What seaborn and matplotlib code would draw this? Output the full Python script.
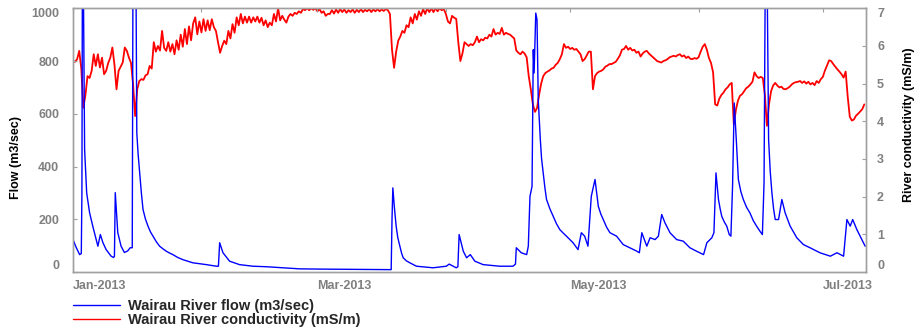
import numpy as np
import pandas as pd
import seaborn as sns
import matplotlib.pyplot as plt
import matplotlib.dates as mdates
from matplotlib.lines import Line2D

sns.set_style('white')
plt.rcParams['font.family'] = ['Liberation Sans', 'DejaVu Sans']

start = pd.Timestamp('2013-01-01')

# Flow (m3/sec): days after 1 Jan 2013 and the value
flow_days = [0.0, 0.8, 1.6, 2.0, 2.15, 2.3, 2.5, 2.8, 3.3, 4.0,
             4.8, 5.6, 6.0, 6.6, 7.2, 8.0, 9.2, 9.8, 10.0, 10.2,
             10.8, 11.6, 12.4, 13.2, 13.8, 14.3, 14.5, 14.8, 15.0, 15.2,
             15.4, 15.7, 16.1, 16.5, 16.9, 17.5, 18.1, 18.7, 19.3, 20.1,
             20.9, 21.7, 22.5, 23.3, 24.1, 25.3, 26.5, 28.9, 32.2, 34.6,
             35.1, 35.4, 36.2, 37.8, 40.2, 43.4, 46.7, 50.7, 54.7, 60.0,
             70.0, 76.8, 77.0, 77.2, 77.6, 78.0, 78.4, 78.9, 79.3, 79.7,
             80.5, 81.3, 82.9, 86.9, 90.1, 90.8, 92.5, 92.9, 93.2, 94.2,
             95.0, 95.9, 97.0, 99.0, 103.0, 106.2, 106.8, 107.0, 108.2, 109.5,
             109.9, 110.3, 110.8, 111.1, 111.3, 111.7, 112.0, 112.3, 112.8, 113.1,
             113.5, 113.9, 114.3, 115.1, 115.9, 116.7, 117.5, 118.3, 119.1, 120.7,
             121.9, 122.7, 123.5, 124.3, 125.1, 126.0, 126.8, 127.4, 128.0, 128.8,
             129.6, 131.2, 132.8, 134.4, 136.1, 136.7, 137.3, 138.5, 139.3, 140.5,
             141.3, 142.1, 142.9, 144.1, 145.7, 147.3, 148.9, 150.5, 152.2, 153.0,
             154.2, 154.7, 155.2, 155.8, 156.2, 156.6, 157.2, 157.8, 158.4, 158.8,
             159.2, 159.6, 160.1, 160.6, 161.2, 161.8, 162.6, 163.4, 164.2, 165.0,
             165.8, 166.4, 166.8, 167.2, 167.5, 167.9, 168.3, 168.7, 169.1, 169.5,
             170.3, 171.1, 171.9, 173.1, 174.7, 176.3, 177.9, 180.3, 182.8, 184.4,
             186.0, 186.8, 187.6, 188.2, 189.2, 190.4, 191.2]
flow_vals = [123, 92, 66, 70, 300, 1400, 1100, 464, 300, 225,
             172, 123, 98, 142, 112, 85, 60, 55, 60, 301,
             150, 98, 74, 80, 92, 92, 1300, 1200, 1400, 1100,
             528, 450, 377, 300, 237, 200, 174, 152, 136, 115,
             98, 88, 79, 72, 66, 55, 47, 35, 28, 22,
             22, 111, 73, 41, 28, 22, 20, 16, 12, 11,
             10, 9, 200, 319, 240, 174, 130, 98, 72, 54,
             42, 35, 22, 16, 22, 30, 16, 20, 142, 79,
             54, 66, 41, 28, 22, 22, 30, 92, 73, 66,
             98, 287, 325, 843, 755, 982, 957, 654, 502, 430,
             376, 320, 275, 240, 211, 183, 161, 148, 136, 111,
             85, 149, 136, 98, 287, 351, 249, 220, 199, 170,
             149, 136, 104, 92, 79, 73, 149, 98, 130, 123,
             136, 218, 186, 149, 123, 117, 92, 79, 66, 111,
             130, 149, 376, 275, 240, 211, 190, 174, 142, 136,
             325, 641, 502, 351, 305, 275, 245, 224, 195, 174,
             155, 142, 338, 1400, 1200, 502, 380, 300, 240, 199,
             199, 275, 224, 174, 130, 104, 92, 73, 60, 73,
             60, 199, 174, 199, 161, 123, 98]

# River conductivity (mS/m), every 12 hours from 1 Jan 2013
cond_vals = [
    5.60, 5.58, 5.65, 5.87, 5.40, 4.36, 4.70, 5.20, 5.15, 5.34,
    5.78, 5.47, 5.78, 5.43, 5.69, 5.25, 5.34, 5.55, 5.69, 5.96,
    5.51, 4.85, 5.34, 5.45, 5.56, 5.96, 5.87, 5.69, 5.55, 4.98,
    4.14, 4.85, 5.07, 5.12, 5.10, 5.22, 5.25, 5.47, 5.40, 6.10,
    5.85, 6.00, 5.88, 6.40, 5.95, 5.87, 6.10, 5.85, 6.05, 5.78,
    6.15, 5.90, 6.30, 5.98, 6.45, 6.05, 6.52, 6.15, 6.60, 6.76,
    6.31, 6.65, 6.36, 6.71, 6.40, 6.68, 6.42, 6.71, 6.50, 6.40,
    6.10, 5.82, 6.00, 6.14, 6.05, 6.40, 6.20, 6.58, 6.35, 6.76,
    6.55, 6.85, 6.60, 6.78, 6.62, 6.78, 6.62, 6.76, 6.65, 6.78,
    6.62, 6.75, 6.55, 6.68, 6.50, 6.62, 6.55, 6.85, 6.65, 7.00,
    6.68, 6.80, 6.70, 6.62, 6.78, 6.85, 6.80, 6.88, 6.85, 6.92,
    6.88, 6.98, 6.95, 7.00, 6.95, 7.00, 6.96, 7.00, 6.92, 6.98,
    6.88, 6.92, 6.80, 6.85, 6.85, 6.95, 6.86, 6.97, 6.88, 6.98,
    6.90, 6.97, 6.88, 6.95, 6.90, 6.97, 6.88, 6.96, 6.90, 6.98,
    6.90, 6.96, 6.92, 6.98, 6.90, 6.97, 6.92, 6.98, 6.92, 6.97,
    6.93, 6.98, 6.95, 6.85, 5.90, 5.42, 5.85, 6.14, 6.25, 6.40,
    6.35, 6.55, 6.50, 6.76, 6.60, 6.85, 6.70, 6.92, 6.80, 6.98,
    6.85, 7.00, 6.90, 7.00, 6.90, 7.00, 6.92, 7.00, 6.95, 6.98,
    6.85, 6.65, 6.60, 6.80, 6.75, 6.72, 6.10, 5.60, 5.80, 6.10,
    6.05, 6.00, 6.05, 6.02, 6.10, 6.25, 6.10, 6.18, 6.15, 6.22,
    6.20, 6.30, 6.25, 6.45, 6.30, 6.35, 6.32, 6.48, 6.30, 6.35,
    6.32, 6.30, 6.25, 6.20, 5.88, 5.82, 5.78, 5.85, 5.80, 5.70,
    5.20, 4.85, 4.45, 4.25, 4.35, 4.70, 5.00, 5.20, 5.28, 5.32,
    5.35, 5.40, 5.42, 5.50, 5.55, 5.65, 5.78, 6.05, 5.95, 5.98,
    5.92, 5.95, 5.90, 5.92, 5.85, 5.78, 5.60, 5.65, 5.75, 5.85,
    5.85, 4.85, 5.20, 5.28, 5.32, 5.34, 5.38, 5.45, 5.48, 5.52,
    5.52, 5.55, 5.58, 5.66, 5.75, 5.90, 5.92, 6.00, 5.90, 5.95,
    5.88, 5.90, 5.82, 5.85, 5.72, 5.80, 5.85, 5.87, 5.80, 5.75,
    5.70, 5.65, 5.60, 5.58, 5.56, 5.60, 5.62, 5.65, 5.70, 5.72,
    5.74, 5.72, 5.76, 5.78, 5.72, 5.75, 5.68, 5.72, 5.66, 5.65,
    5.68, 5.66, 5.70, 5.85, 5.98, 6.05, 5.90, 5.68, 5.55, 5.30,
    4.45, 4.42, 4.60, 4.70, 4.76, 4.85, 4.90, 4.98, 5.02, 3.92,
    4.30, 4.55, 4.68, 4.72, 4.80, 4.88, 4.92, 4.98, 5.05, 5.30,
    5.20, 5.15, 5.18, 5.15, 4.70, 3.88, 4.45, 4.80, 4.95, 5.02,
    4.95, 4.90, 4.92, 4.86, 4.85, 4.88, 4.92, 4.98, 5.02, 5.04,
    5.05, 5.07, 5.02, 5.06, 5.00, 5.05, 4.98, 5.02, 4.96, 5.07,
    5.02, 5.12, 5.18, 5.35, 5.48, 5.62, 5.60, 5.52, 5.45, 5.38,
    5.32, 5.25, 5.16, 5.32, 4.65, 4.12, 4.02, 4.05, 4.15, 4.20,
    4.26, 4.32, 4.45,
]

flow_label = 'Wairau River flow (m3/sec)'
cond_label = 'Wairau River conductivity (mS/m)'
month_labels = ['Jan-2013', '', 'Mar-2013', '', 'May-2013', '', 'Jul-2013']

flow_df = pd.DataFrame({'time': start + pd.to_timedelta(flow_days, unit='D'),
                        'flow': flow_vals})
cond_df = pd.DataFrame({'time': pd.date_range(start, periods=len(cond_vals), freq='12h'),
                        'cond': cond_vals})

blue = '#0000ff'
red = '#ff0000'
grey = '#808080'

fig = plt.figure(figsize=(9.23, 3.31), dpi=100)
ax = fig.add_axes([0.0791, 0.1782, 0.8591, 0.7967])
ax2 = ax.twinx()

sns.lineplot(data=cond_df, x='time', y='cond', ax=ax2, color=red, lw=1.3, legend=False)
sns.lineplot(data=flow_df, x='time', y='flow', ax=ax, color=blue, lw=1.0, legend=False)

# flow drawn above conductivity
ax.set_zorder(ax2.get_zorder() + 1)
ax.patch.set_visible(False)

ax.set_xlim(start, start + pd.Timedelta(days=191.4))
ax.set_ylim(0, 1000)
ax2.set_ylim(0, 7)

ax.xaxis.set_major_locator(mdates.MonthLocator())
ax.set_xticks(ax.get_xticks())
ax.set_xticklabels(month_labels, ha='left')

ax.set_yticks([0, 200, 400, 600, 800, 1000])
lab = ax.set_yticklabels(['0', '200', '400', '600', '800', '1000'])
lab[0].set_va('bottom')
lab[-1].set_va('top')
ax2.set_yticks(range(8))
lab2 = ax2.set_yticklabels([str(i) for i in range(8)])
lab2[0].set_va('bottom')
lab2[-1].set_va('top')

for a in (ax, ax2):
    for s in a.spines.values():
        s.set_color('#a0a0a0')
        s.set_linewidth(1.0)
    for t in a.get_xticklabels() + a.get_yticklabels():
        t.set_fontweight('bold')
        t.set_color(grey)
        t.set_fontsize(9)

ax.tick_params(axis='x', direction='in', length=3, color='#a0a0a0', top=True, pad=6)
ax.tick_params(axis='y', direction='in', length=3, color='#a0a0a0', pad=10)
ax2.tick_params(axis='y', direction='in', length=3, color='#a0a0a0', pad=8)

ax.set_xlabel('')
ax.set_ylabel('Flow (m3/sec)', fontsize=9, fontweight='bold', color='black')
ax2.set_ylabel('River conductivity (mS/m)', fontsize=9, fontweight='bold', color='black')
ax.yaxis.set_label_coords(-0.064, 0.436)
ax2.yaxis.set_label_coords(1.0467, 0.557)

handles = [Line2D([], [], color=blue, lw=1.0), Line2D([], [], color=red, lw=1.0)]
fig.legend(handles, [flow_label, cond_label], loc='upper left',
           bbox_to_anchor=(0.079, 0.097), frameon=False, borderpad=0,
           borderaxespad=0, handlelength=3.2, handletextpad=0.55,
           labelspacing=0.0, prop={'weight': 'bold', 'size': 10.5})

fig.savefig('out.png', dpi=100)
